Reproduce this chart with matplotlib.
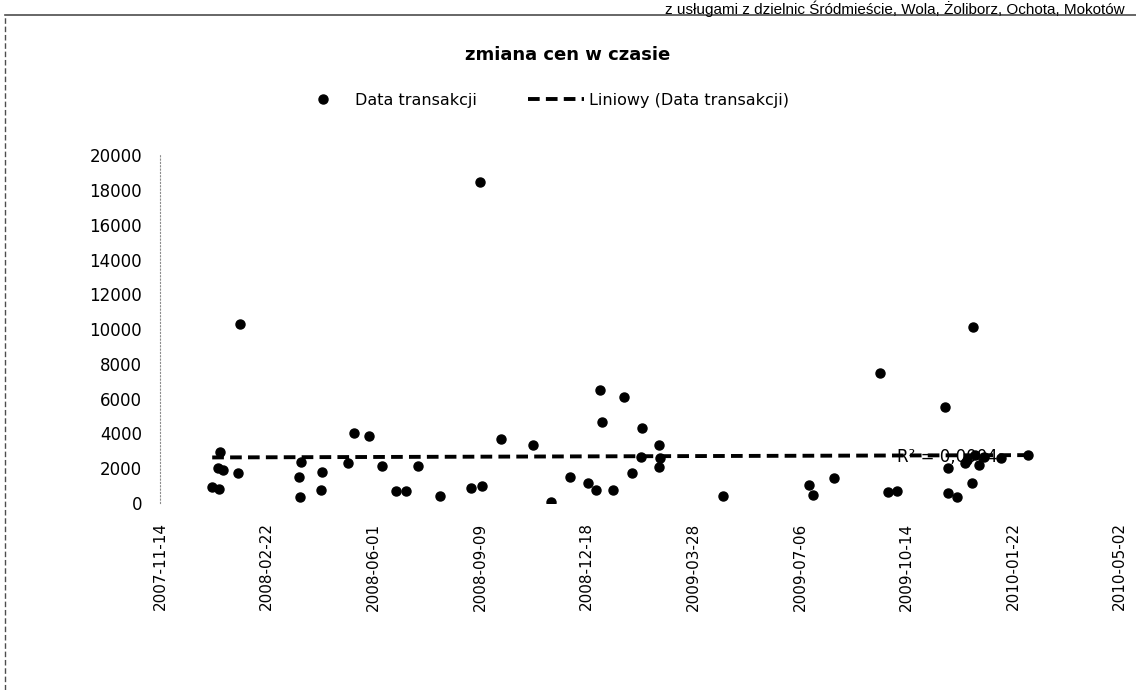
import matplotlib.pyplot as plt
import matplotlib.dates as mdates
import numpy as np
import pandas as pd

# transaction dates and prices
dates = ["2008-01-02", "2008-01-08", "2008-01-09", "2008-01-07", "2008-01-12",
         "2008-01-26", "2008-01-28", "2008-03-23", "2008-03-24", "2008-03-25",
         "2008-04-14", "2008-04-13", "2008-05-14", "2008-05-28", "2008-05-08",
         "2008-06-09", "2008-06-22", "2008-07-02", "2008-07-13", "2008-08-03",
         "2008-09-01", "2008-09-11", "2008-09-09", "2008-09-29", "2008-10-29",
         "2008-11-15", "2008-12-02", "2008-12-19", "2008-12-27", "2009-01-12",
         "2008-12-31", "2009-01-01", "2009-01-22", "2009-01-30", "2009-02-08",
         "2009-02-07", "2009-02-24", "2009-02-24", "2009-02-25", "2009-04-25",
         "2009-07-15", "2009-07-18", "2009-08-07", "2009-09-19", "2009-09-27",
         "2009-10-05", "2009-11-19", "2009-11-22", "2009-11-22", "2009-11-30",
         "2009-12-14", "2009-12-15", "2009-12-10", "2009-12-17", "2009-12-26",
         "2009-12-21", "2009-12-08", "2010-02-05", "2010-01-11"]
prices = [940, 800, 2950, 1990, 1900,
          1740, 10270, 1510, 360, 2380,
          1760, 750, 4000, 3870, 2280,
          2150, 710, 710, 2150, 400,
          840, 980, 18470, 3660, 3330,
          80, 1510, 1130, 750, 750,
          6490, 4640, 6070, 1700, 4290,
          2650, 3330, 2090, 2600, 400,
          1030, 460, 1420, 7450, 650,
          690, 5540, 1990, 560, 330,
          1130, 10130, 2470, 2760, 2640,
          2180, 2280, 2760, 2600]

x_start = "2007-11-14"
x_end = "2010-05-02"
tick_step_days = 100
y_ticks = [0, 2000, 4000, 6000, 8000, 10000, 12000, 14000, 16000, 18000, 20000]

title = "zmiana cen w czasie"
header = "z usługami z dzielnic Śródmieście, Wola, Żoliborz, Ochota, Mokotów"
r2_label = "R² = 0,0004"

dt = pd.to_datetime(dates)
xnum = mdates.date2num(dt)
prices = np.array(prices)

fig = plt.figure(figsize=(11.36, 6.9), dpi=100)
ax = fig.add_axes([0.1408, 0.271, 0.845, 0.504])

ax.plot(xnum, prices, "o", color="black", markersize=6.5, label="Data transakcji")

# linear trendline over the data range
k, b = np.polyfit(xnum, prices, 1)
tx = np.array([xnum.min(), xnum.max()])
ax.plot(tx, k * tx + b, color="black", lw=2.8, dashes=[3.0, 1.6],
        label="Liniowy (Data transakcji)")

x0 = mdates.date2num(pd.Timestamp(x_start))
x1 = mdates.date2num(pd.Timestamp(x_end))
ax.set_xlim(x0, x1)
ax.set_ylim(0, 20000)
ticks = np.arange(x0, x1 + 1, tick_step_days)
ax.set_xticks(ticks)
ax.set_xticklabels([mdates.num2date(t).strftime("%Y-%m-%d") for t in ticks],
                   rotation=90, fontsize=11)
ax.set_yticks(y_ticks)
ax.set_yticklabels([str(v) for v in y_ticks], fontsize=12)
ax.tick_params(axis="both", length=0)
ax.tick_params(axis="y", pad=13)
ax.tick_params(axis="x", pad=14)

for s in ["top", "right", "bottom"]:
    ax.spines[s].set_visible(False)
ax.spines["left"].set_color("0.55")
ax.spines["left"].set_linestyle((0, (1, 2)))
ax.spines["left"].set_linewidth(0.8)

ax.text(0.768, 0.132, r2_label, transform=ax.transAxes, fontsize=12,
        va="center", ha="left")

fig.text(0.5, 0.92, title, ha="center", va="center", fontsize=13,
         fontweight="bold", family=["Liberation Sans Narrow", "DejaVu Sans"])
ax.legend(loc="center", bbox_to_anchor=(0.477, 0.855), bbox_transform=fig.transFigure,
          ncol=2, frameon=False, handlelength=3.5, handletextpad=0.3,
          columnspacing=3.2, prop={"size": 11.5})

# header text at the top edge and the scanned frame edges
fig.text(0.99, 0.999, header, ha="right", va="top", fontsize=11,
         family=["Liberation Sans", "DejaVu Sans"])
fig.add_artist(plt.Line2D([0.004, 1.0], [0.978, 0.978], color="0.3", lw=1.2,
                          transform=fig.transFigure))
fig.add_artist(plt.Line2D([0.004, 0.004], [0.0, 0.978], color="0.3", lw=1.0,
                          linestyle=(0, (4, 2)), transform=fig.transFigure))

fig.savefig("out.png", dpi=100)
